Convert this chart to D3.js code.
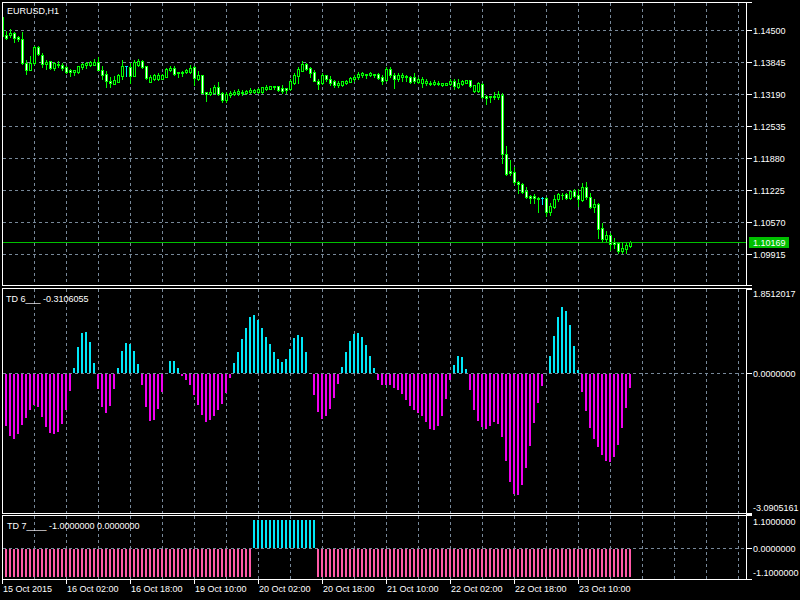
<!DOCTYPE html>
<html><head><meta charset="utf-8">
<script src="https://cdn.jsdelivr.net/npm/d3@7"></script>
<style>
html,body{margin:0;padding:0;background:#000;}
svg{display:block;}
text{font-family:"Liberation Sans",Arial,sans-serif;font-size:9px;fill:#fff;}
</style></head><body>
<svg id="c" width="800" height="600"></svg>
<script>
// ---------------- DATA ----------------
const symbolLabel = "EURUSD,H1";
const priceTicks = [1.14500, 1.13845, 1.13190, 1.12535, 1.11880, 1.11225, 1.10570, 1.09915];
const priceTickLabels = ["1.14500","1.13845","1.13190","1.12535","1.11880","1.11225","1.10570","1.09915"];
const currentPrice = 1.10169;
const currentPriceLabel = "1.10169";
const timeLabels = ["15 Oct 2015","16 Oct 02:00","16 Oct 18:00","19 Oct 10:00","20 Oct 02:00",
                    "20 Oct 18:00","21 Oct 10:00","22 Oct 02:00","22 Oct 18:00","23 Oct 10:00"];
const timeLabelBars = [0,16,32,48,64,80,96,112,128,144];

const opens = [
1.14766,1.14404,1.14391,1.14432,1.14350,1.14310,1.13831,1.13681,1.13824,1.14158,
1.13988,1.13798,1.13859,1.13722,1.13804,1.13790,1.13749,1.13675,1.13634,1.13640,
1.13736,1.13790,1.13790,1.13790,1.13845,1.13681,1.13599,1.13462,1.13395,1.13436,
1.13558,1.13753,1.13749,1.13558,1.13777,1.13859,1.13763,1.13442,1.13503,1.13503,
1.13503,1.13544,1.13675,1.13722,1.13640,1.13620,1.13640,1.13640,1.13736,1.13491,
1.13573,1.13225,1.13184,1.13218,1.13339,1.13204,1.13067,1.13163,1.13190,1.13204,
1.13204,1.13218,1.13225,1.13231,1.13237,1.13237,1.13286,1.13292,1.13354,1.13354,
1.13313,1.13313,1.13286,1.13421,1.13558,1.13667,1.13804,1.13722,1.13640,1.13462,
1.13409,1.13573,1.13491,1.13450,1.13368,1.13368,1.13409,1.13436,1.13491,1.13532,
1.13573,1.13599,1.13573,1.13599,1.13599,1.13544,1.13476,1.13708,1.13585,1.13491,
1.13532,1.13558,1.13532,1.13544,1.13436,1.13421,1.13409,1.13395,1.13395,1.13395,
1.13380,1.13380,1.13395,1.13462,1.13339,1.13395,1.13421,1.13476,1.13257,1.13257,
1.13395,1.13149,1.13149,1.13128,1.13122,1.13176,1.11962,1.11614,1.11593,1.11395,
1.11348,1.11204,1.11102,1.11102,1.11061,1.11061,1.11061,1.10781,1.10883,1.11034,
1.11116,1.11143,1.11061,1.11210,1.11116,1.11020,1.11292,1.11088,1.10883,1.10938,
1.10441,1.10216,1.10297,1.10160,1.10134,1.09970,1.10011,1.10078];
const highs = [
1.14807,1.14479,1.14514,1.14453,1.14383,1.14453,1.13886,1.13968,1.14172,1.14172,
1.14023,1.13886,1.13872,1.13845,1.13859,1.13831,1.13763,1.13708,1.13687,1.13763,
1.13831,1.13845,1.13859,1.13912,1.13953,1.13763,1.13654,1.13532,1.13558,1.13599,
1.13886,1.13763,1.13818,1.13886,1.13900,1.13886,1.13763,1.13573,1.13599,1.13614,
1.13599,1.13722,1.13763,1.13763,1.13640,1.13655,1.13708,1.13777,1.13763,1.13654,
1.13585,1.13231,1.13307,1.13374,1.13436,1.13237,1.13237,1.13257,1.13272,1.13286,
1.13272,1.13278,1.13313,1.13298,1.13313,1.13339,1.13374,1.13354,1.13354,1.13354,
1.13368,1.13313,1.13503,1.13626,1.13749,1.13859,1.13831,1.13749,1.13681,1.13503,
1.13614,1.13585,1.13558,1.13476,1.13462,1.13462,1.13476,1.13532,1.13585,1.13640,
1.13640,1.13599,1.13640,1.13599,1.13614,1.13585,1.13749,1.13749,1.13614,1.13626,
1.13626,1.13585,1.13558,1.13614,1.13532,1.13532,1.13491,1.13450,1.13476,1.13450,
1.13421,1.13421,1.13491,1.13491,1.13503,1.13476,1.13476,1.13476,1.13380,1.13436,
1.13421,1.13176,1.13149,1.13237,1.13245,1.13204,1.12126,1.11839,1.11689,1.11415,
1.11368,1.11280,1.11129,1.11143,1.11075,1.11075,1.11088,1.10952,1.11116,1.11170,
1.11170,1.11170,1.11225,1.11239,1.11251,1.11374,1.11389,1.11157,1.11047,1.10952,
1.10543,1.10379,1.10351,1.10242,1.10146,1.10146,1.10160,1.10181];
const lows = [
1.14336,1.14310,1.14363,1.14260,1.14275,1.13804,1.13599,1.13681,1.13804,1.13988,
1.13749,1.13708,1.13708,1.13681,1.13736,1.13681,1.13620,1.13558,1.13585,1.13626,
1.13708,1.13722,1.13763,1.13777,1.13681,1.13503,1.13327,1.13339,1.13395,1.13436,
1.13503,1.13558,1.13421,1.13558,1.13763,1.13722,1.13497,1.13436,1.13476,1.13476,
1.13497,1.13538,1.13655,1.13585,1.13532,1.13558,1.13614,1.13626,1.13368,1.13476,
1.13204,1.13053,1.13169,1.13204,1.13169,1.13026,1.13026,1.13135,1.13163,1.13176,
1.13176,1.13190,1.13218,1.13218,1.13218,1.13204,1.13272,1.13292,1.13292,1.13257,
1.13218,1.13204,1.13272,1.13395,1.13409,1.13667,1.13681,1.13544,1.13450,1.13298,
1.13395,1.13450,1.13368,1.13339,1.13339,1.13354,1.13395,1.13436,1.13462,1.13491,
1.13544,1.13517,1.13558,1.13532,1.13491,1.13395,1.13462,1.13544,1.13313,1.13450,
1.13462,1.13450,1.13409,1.13421,1.13409,1.13339,1.13380,1.13368,1.13368,1.13380,
1.13354,1.13368,1.13380,1.13298,1.13313,1.13380,1.13421,1.13339,1.13231,1.13231,
1.13108,1.12985,1.13032,1.13081,1.13094,1.11777,1.11532,1.11532,1.11348,1.11157,
1.11163,1.11055,1.10965,1.10965,1.10774,1.10938,1.10693,1.10707,1.10850,1.11006,
1.11034,1.11047,1.11047,1.11075,1.10897,1.11006,1.11047,1.10856,1.10774,1.10242,
1.10160,1.10160,1.09997,1.10038,1.09941,1.09929,1.09941,1.10064];
const closes = [
1.14377,1.14336,1.14432,1.14330,1.14310,1.13818,1.13681,1.13831,1.14152,1.14003,
1.13798,1.13845,1.13722,1.13818,1.13777,1.13716,1.13646,1.13640,1.13675,1.13757,
1.13804,1.13818,1.13845,1.13845,1.13681,1.13585,1.13462,1.13409,1.13476,1.13573,
1.13763,1.13753,1.13558,1.13845,1.13872,1.13736,1.13517,1.13538,1.13573,1.13573,
1.13573,1.13695,1.13722,1.13599,1.13620,1.13640,1.13681,1.13722,1.13517,1.13585,
1.13218,1.13184,1.13237,1.13339,1.13184,1.13067,1.13184,1.13218,1.13237,1.13251,
1.13237,1.13245,1.13272,1.13272,1.13286,1.13327,1.13339,1.13354,1.13327,1.13272,
1.13257,1.13272,1.13462,1.13585,1.13708,1.13804,1.13708,1.13626,1.13462,1.13395,
1.13585,1.13491,1.13421,1.13368,1.13409,1.13450,1.13462,1.13517,1.13544,1.13599,
1.13614,1.13573,1.13614,1.13573,1.13517,1.13450,1.13708,1.13573,1.13503,1.13585,
1.13585,1.13532,1.13436,1.13450,1.13491,1.13503,1.13462,1.13421,1.13436,1.13421,
1.13409,1.13421,1.13462,1.13354,1.13421,1.13450,1.13476,1.13354,1.13368,1.13409,
1.13122,1.13102,1.13122,1.13143,1.13190,1.11962,1.11546,1.11567,1.11389,1.11348,
1.11190,1.11075,1.11055,1.11061,1.11047,1.11061,1.10774,1.10897,1.11047,1.11143,
1.11129,1.11061,1.11198,1.11102,1.11034,1.11280,1.11075,1.10871,1.10944,1.10433,
1.10228,1.10310,1.10120,1.10120,1.09970,1.10038,1.10105,1.10169];

const td6Label = "TD 6___ -0.3106055";
const td6Range = [-3.0905161, 1.8512017];
const td6 = [null,
-1.157,-1.369,-1.435,-1.325,-1.135,-0.974,-0.805,-0.695,-0.732,-0.952,
-1.171,-1.303,-1.325,-1.281,-1.105,-0.805,-0.381,0.095,0.556,0.864,
0.886,0.673,0.205,-0.329,-0.732,-0.864,-0.710,-0.337,0.095,0.469,
0.644,0.630,0.469,0.183,-0.256,-0.732,-1.040,-1.018,-0.776,-0.410,
0.0,0.249,0.249,0.095,-0.051,-0.146,-0.256,-0.476,-0.695,-0.915,
-1.061,-1.025,-0.930,-0.805,-0.659,-0.425,-0.095,0.205,0.454,0.732,
0.988,1.230,1.266,1.157,0.974,0.791,0.637,0.461,0.293,0.227,
0.293,0.512,0.754,0.835,0.776,0.461,0.0,-0.476,-0.842,-0.988,
-0.937,-0.783,-0.534,-0.234,0.117,0.447,0.688,0.842,0.864,0.776,
0.600,0.359,0.095,-0.146,-0.256,-0.256,-0.256,-0.315,-0.366,-0.454,
-0.586,-0.717,-0.805,-0.857,-0.930,-1.061,-1.223,-1.245,-1.157,-0.930,
-0.564,-0.146,0.161,0.359,0.337,0.073,-0.366,-0.805,-1.047,-1.179,
-1.223,-1.157,-1.069,-1.113,-1.398,-1.925,-2.387,-2.650,-2.672,-2.452,
-2.079,-1.596,-1.091,-0.652,-0.278,0.0,0.359,0.798,1.215,1.435,
1.347,1.040,0.578,0.051,-0.410,-0.827,-1.201,-1.442,-1.618,-1.794,
-1.925,-1.947,-1.837,-1.574,-1.201,-0.761,-0.3106055];
const td6Ticks = [1.8512017, 0.0, -3.0905161];
const td6TickLabels = ["1.8512017","0.0000000","-3.0905161"];

const td7Label = "TD 7____ -1.0000000 0.0000000";
const td7Range = [-1.1, 1.1];
const td7 = [null,
-1,-1,-1,-1,-1,-1,-1,-1,-1,-1,-1,-1,-1,-1,-1,-1,-1,-1,-1,-1,
-1,-1,-1,-1,-1,-1,-1,-1,-1,-1,-1,-1,-1,-1,-1,-1,-1,-1,-1,-1,
-1,-1,-1,-1,-1,-1,-1,-1,-1,-1,-1,-1,-1,-1,-1,-1,-1,-1,-1,-1,
-1,-1,
1,1,1,1,1,1,1,1,1,1,1,1,1,1,1,1,
-1,-1,-1,-1,-1,-1,-1,-1,-1,-1,-1,-1,-1,-1,-1,-1,-1,-1,-1,-1,
-1,-1,-1,-1,-1,-1,-1,-1,-1,-1,-1,-1,-1,-1,-1,-1,-1,-1,-1,-1,
-1,-1,-1,-1,-1,-1,-1,-1,-1,-1,-1,-1,-1,-1,-1,-1,-1,-1,-1,-1,
-1,-1,-1,-1,-1,-1,-1,-1,-1,-1,-1,-1,-1,-1,-1,-1,-1,-1,-1];
const td7Ticks = [1.1, 0.0, -1.1];
const td7TickLabels = ["1.1000000","0.0000000","-1.1000000"];

// ---------------- STYLE / LAYOUT ----------------
const C = {bg:"#000", fg:"#fff", grid:"#778899", candle:"#00ff00", doji:"#00e8f8",
  bull:"#000", bear:"#fff", priceLine:"#00c000", up:"#00e8f8", down:"#f000f0", pink:"#ff5aa8"};
const X0 = 2, X1 = 747;
const panels = {
  main: {top: 2, bottom: 285},
  sub1: {top: 288, bottom: 513},
  sub2: {top: 515, bottom: 579}
};
const svg = d3.select("#c");
svg.append("rect").attr("width",800).attr("height",600).attr("fill",C.bg);

const x = d3.scaleLinear().domain([0, 186.25]).range([X0, X1]);
const yMain = d3.scaleLinear().domain([priceTicks[priceTicks.length-1], priceTicks[0]]).range([254, 30]);
const ySub1 = d3.scaleLinear().domain(td6Range).range([513.5, 288.5]);
const ySub2 = d3.scaleLinear().domain(td7Range).range([579, 517.5]);

const defs = svg.append("defs");
Object.entries(panels).forEach(([k,p]) => {
  defs.append("clipPath").attr("id","clip-"+k).append("rect")
    .attr("x",X0+1).attr("y",p.top+1).attr("width",X1-X0-1).attr("height",p.bottom-p.top-1);
});

const R = v => Math.round(v);
const gridBars = d3.range(8, 186, 8);

function vGrid(g, p) {
  g.selectAll("line.vg").data(gridBars).join("line").attr("class","vg")
    .attr("x1", d => R(x(d))+0.5).attr("x2", d => R(x(d))+0.5)
    .attr("y1", p.top+1).attr("y2", p.bottom)
    .attr("stroke", C.grid).attr("stroke-dasharray","3,3");
}
function hGrid(g, ys) {
  g.selectAll("line.hg").data(ys).join("line").attr("class","hg")
    .attr("x1", X0+1).attr("x2", X1)
    .attr("y1", d => d).attr("y2", d => d)
    .attr("stroke", C.grid).attr("stroke-dasharray","3,3");
}

// ---------- MAIN PANEL ----------
const gMain = svg.append("g").attr("clip-path","url(#clip-main)").attr("shape-rendering","crispEdges");
vGrid(gMain, panels.main);
hGrid(gMain, priceTicks.map(p => R(yMain(p))+0.5));

const candles = opens.map((o,i) => ({i, o, h: highs[i], l: lows[i], c: closes[i]}));
const cg = gMain.selectAll("g.candle").data(candles).join("g").attr("class","candle");
cg.each(function(d){
  const g = d3.select(this);
  const xc = R(x(d.i));
  const yH = R(yMain(d.h)), yL = R(yMain(d.l)), yO = R(yMain(d.o)), yC = R(yMain(d.c));
  const isDoji = d.o === d.c;
  const col = isDoji ? C.doji : C.candle;
  g.append("rect").attr("x", xc).attr("y", yH).attr("width",1).attr("height", yL-yH+1).attr("fill", col);
  const top = Math.min(yO,yC), bot = Math.max(yO,yC);
  g.append("rect").attr("x", xc-1).attr("y", top).attr("width",3).attr("height", bot-top+1).attr("fill", col);
  if (bot - top >= 2) {
    g.append("rect").attr("x", xc).attr("y", top+1).attr("width",1).attr("height", bot-top-1)
      .attr("fill", d.c < d.o ? C.bear : C.bull);
  }
});
const yCur = R(yMain(currentPrice)) + 0.5;
gMain.append("line").attr("x1",X0).attr("x2",X1).attr("y1",yCur).attr("y2",yCur).attr("stroke",C.priceLine);

// ---------- SUB 1 ----------
const gS1 = svg.append("g").attr("clip-path","url(#clip-sub1)").attr("shape-rendering","crispEdges");
vGrid(gS1, panels.sub1);
const z1 = R(ySub1(0));
hGrid(gS1, [z1+0.5]);
gS1.selectAll("rect.h").data(td6.map((v,i)=>({v,i})).filter(d => d.v !== null && d.v !== 0))
  .join("rect").attr("class","h")
  .attr("x", d => R(x(d.i))-1).attr("width", 2)
  .attr("y", d => d.v > 0 ? R(ySub1(d.v)) : z1+1)
  .attr("height", d => d.v > 0 ? z1 - R(ySub1(d.v)) : R(ySub1(d.v)) - z1)
  .attr("fill", d => d.v > 0 ? C.up : C.down);

// ---------- SUB 2 ----------
const gS2 = svg.append("g").attr("clip-path","url(#clip-sub2)").attr("shape-rendering","crispEdges");
vGrid(gS2, panels.sub2);
const z2 = R(ySub2(0));
hGrid(gS2, [z2+0.5]);
gS2.selectAll("rect.h").data(td7.map((v,i)=>({v,i})).filter(d => d.v !== null))
  .join("rect").attr("class","h")
  .attr("x", d => R(x(d.i))-1).attr("width", 2)
  .attr("y", d => d.v > 0 ? R(ySub2(d.v)) : z2+1)
  .attr("height", d => d.v > 0 ? z2 - R(ySub2(d.v)) : R(ySub2(d.v)) - z2)
  .attr("fill", d => d.v > 0 ? C.up : C.pink);

// ---------- BORDERS & AXES ----------
const gFrame = svg.append("g").attr("shape-rendering","crispEdges");
Object.values(panels).forEach(p => {
  gFrame.append("rect").attr("x",X0+0.5).attr("y",p.top+0.5)
    .attr("width",X1-X0-1).attr("height",p.bottom-p.top)
    .attr("fill","none").attr("stroke",C.fg);
  [p.top+0.5, p.bottom+0.5].forEach(yy =>
    gFrame.append("line").attr("x1",X1-1).attr("x2",X1+5).attr("y1",yy).attr("y2",yy).attr("stroke",C.fg));
});

const LX = X1 + 6;
// main price axis
priceTicks.forEach((p,j) => {
  const yy = R(yMain(p));
  gFrame.append("line").attr("x1",X1-1).attr("x2",X1+5).attr("y1",yy+0.5).attr("y2",yy+0.5).attr("stroke",C.fg);
  svg.append("text").attr("x",LX).attr("y",yy+4).text(priceTickLabels[j]);
});
// current price box
gFrame.append("rect").attr("x",X1+2).attr("y",R(yMain(currentPrice))-5).attr("width",40).attr("height",11).attr("fill",C.priceLine);
svg.append("text").attr("x",LX).attr("y",R(yMain(currentPrice))+4).text(currentPriceLabel);

// sub1 axis
td6Ticks.forEach((v,j) => {
  const yy = R(ySub1(v));
  gFrame.append("line").attr("x1",X1-1).attr("x2",X1+5).attr("y1",yy+0.5).attr("y2",yy+0.5).attr("stroke",C.fg);
  const by = j === 0 ? panels.sub1.top + 9 : (j === td6Ticks.length-1 ? panels.sub1.bottom - 2.5 : yy + 3.5);
  svg.append("text").attr("x",LX).attr("y",by).text(td6TickLabels[j]);
});
// sub2 axis
td7Ticks.forEach((v,j) => {
  const yy = R(ySub2(v));
  if (j === 1) gFrame.append("line").attr("x1",X1-1).attr("x2",X1+5).attr("y1",yy+0.5).attr("y2",yy+0.5).attr("stroke",C.fg);
  const by = j === 0 ? panels.sub2.top + 10 : (j === td7Ticks.length-1 ? panels.sub2.bottom - 3 : yy + 3.5);
  svg.append("text").attr("x",LX).attr("y",by).text(td7TickLabels[j]);
});

// time axis
timeLabelBars.forEach((b,j) => {
  const xx = R(x(b));
  gFrame.append("line").attr("x1",xx+0.5).attr("x2",xx+0.5).attr("y1",panels.sub2.bottom).attr("y2",panels.sub2.bottom+5).attr("stroke",C.fg);
  svg.append("text").attr("x",xx+1).attr("y",panels.sub2.bottom+12.5).text(timeLabels[j]);
});

// panel titles
svg.append("text").attr("x",7).attr("y",13.5).text(symbolLabel);
svg.append("text").attr("x",6).attr("y",301.5).text(td6Label);
svg.append("text").attr("x",7).attr("y",529).text(td7Label);
</script>
</body></html>
